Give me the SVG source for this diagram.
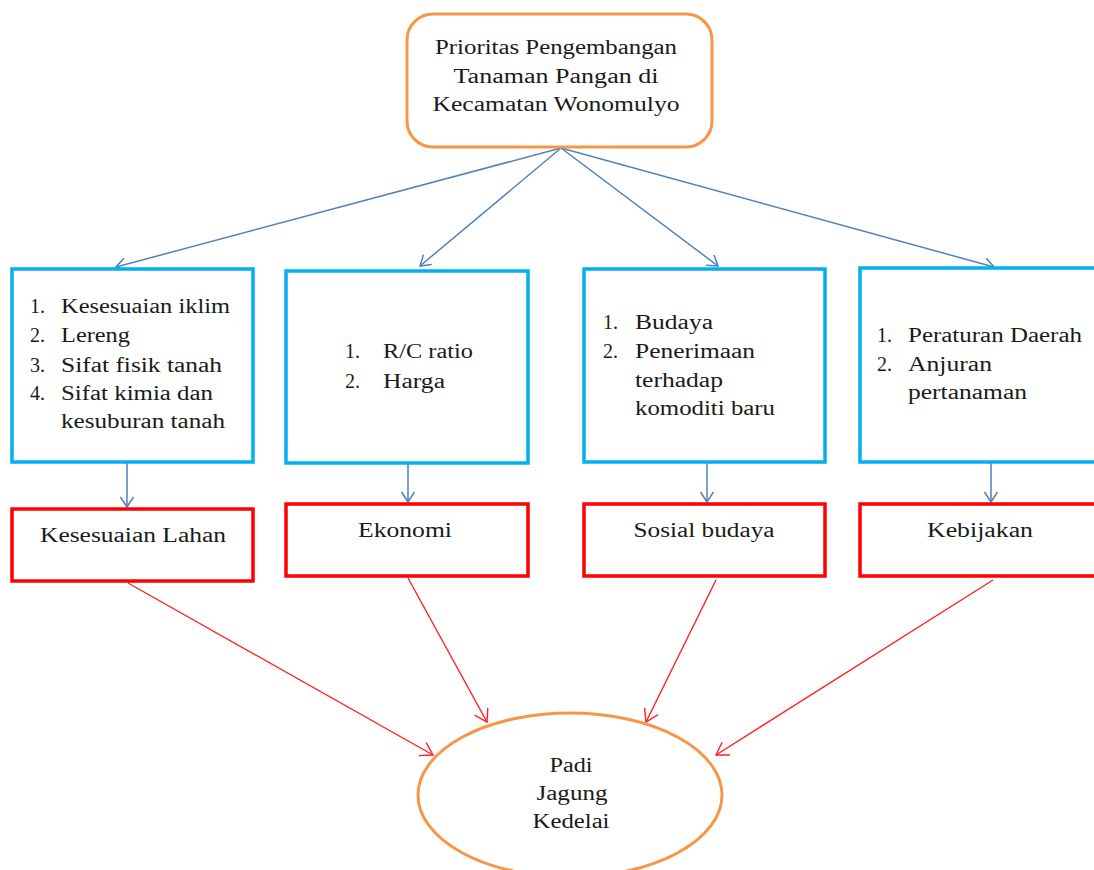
<svg xmlns="http://www.w3.org/2000/svg" width="1094" height="870" viewBox="0 0 1094 870">
<style>
text{font-family:"Liberation Serif","Times New Roman",serif;fill:#1a1a1a;font-size:20px}
.c{text-anchor:middle}
.top{fill:#fff;stroke:#F79646;stroke-width:3}
.crit{fill:#fff;stroke:#00B0F0;stroke-width:3.5}
.cat{fill:#fff;stroke:#FF0000;stroke-width:3.5}
.bl{stroke:#4F81BD;stroke-width:1.5;fill:none;marker-end:url(#ab)}
.rl{stroke:#FF2020;stroke-width:1.4;fill:none;marker-end:url(#ar)}
</style>
<defs>
<marker id="ab" markerUnits="userSpaceOnUse" markerWidth="16" markerHeight="16" refX="11" refY="7" orient="auto" viewBox="0 0 16 16"><path d="M1,0.5 L11,7 L1,13.5" fill="none" stroke="#4F81BD" stroke-width="1.5"/></marker>
<marker id="ar" markerUnits="userSpaceOnUse" markerWidth="18" markerHeight="18" refX="13" refY="8" orient="auto" viewBox="0 0 18 18"><path d="M1,0.5 L13,8 L1,15.5" fill="none" stroke="#FF2020" stroke-width="1.4"/></marker>
</defs>
<rect width="1094" height="870" fill="#fff"/>

<g id="connectors">
<line class="bl" x1="561" y1="148" x2="116" y2="267"/>
<line class="bl" x1="561" y1="148" x2="420" y2="266"/>
<line class="bl" x1="561" y1="148" x2="718" y2="266"/>
<line class="bl" x1="561" y1="148" x2="994" y2="267"/>
<line class="bl" x1="127" y1="463" x2="127" y2="507"/>
<line class="bl" x1="408" y1="464" x2="408" y2="502"/>
<line class="bl" x1="707" y1="463" x2="707" y2="502"/>
<line class="bl" x1="991" y1="463" x2="991" y2="502"/>
<line class="rl" x1="128" y1="583" x2="433" y2="755"/>
<line class="rl" x1="408" y1="578" x2="487" y2="722"/>
<line class="rl" x1="716" y1="580" x2="646" y2="722"/>
<line class="rl" x1="993" y1="580" x2="716" y2="755"/>
</g>

<g id="top">
<rect class="top" x="407" y="14" width="305" height="133" rx="26"/>
<text class="c" x="556" y="54" font-size="21" textLength="242" lengthAdjust="spacingAndGlyphs">Prioritas Pengembangan</text>
<text class="c" x="556" y="83" font-size="21" textLength="205" lengthAdjust="spacingAndGlyphs">Tanaman Pangan di</text>
<text class="c" x="556" y="111" font-size="21" textLength="247" lengthAdjust="spacingAndGlyphs">Kecamatan Wonomulyo</text>
</g>

<g id="kriteria-lahan">
<rect class="crit" x="12" y="269" width="241" height="193"/>
<text x="30" y="313">1.</text><text x="61" y="313" textLength="169" lengthAdjust="spacingAndGlyphs">Kesesuaian iklim</text>
<text x="30" y="342">2.</text><text x="61" y="342" textLength="69" lengthAdjust="spacingAndGlyphs">Lereng</text>
<text x="30" y="372">3.</text><text x="61" y="372" textLength="161" lengthAdjust="spacingAndGlyphs">Sifat fisik tanah</text>
<text x="30" y="400">4.</text><text x="61" y="400" textLength="152" lengthAdjust="spacingAndGlyphs">Sifat kimia dan</text>
<text x="61" y="428" textLength="164" lengthAdjust="spacingAndGlyphs">kesuburan tanah</text>
</g>

<g id="kriteria-ekonomi">
<rect class="crit" x="286" y="271" width="242" height="192"/>
<text x="345" y="358">1.</text><text x="383" y="358" textLength="90" lengthAdjust="spacingAndGlyphs">R/C ratio</text>
<text x="345" y="388">2.</text><text x="383" y="388" textLength="62" lengthAdjust="spacingAndGlyphs">Harga</text>
</g>

<g id="kriteria-sosial">
<rect class="crit" x="584" y="269" width="241" height="193"/>
<text x="603" y="329">1.</text><text x="635" y="329" textLength="78" lengthAdjust="spacingAndGlyphs">Budaya</text>
<text x="603" y="358">2.</text><text x="635" y="358" textLength="120" lengthAdjust="spacingAndGlyphs">Penerimaan</text>
<text x="635" y="387" textLength="88" lengthAdjust="spacingAndGlyphs">terhadap</text>
<text x="635" y="415" textLength="140" lengthAdjust="spacingAndGlyphs">komoditi baru</text>
</g>

<g id="kriteria-kebijakan">
<rect class="crit" x="860" y="268" width="250" height="194"/>
<text x="877" y="342">1.</text><text x="908" y="342" textLength="174" lengthAdjust="spacingAndGlyphs">Peraturan Daerah</text>
<text x="877" y="371">2.</text><text x="908" y="371" textLength="84" lengthAdjust="spacingAndGlyphs">Anjuran</text>
<text x="908" y="399" textLength="119" lengthAdjust="spacingAndGlyphs">pertanaman</text>
</g>

<g id="kesesuaian-lahan">
<rect class="cat" x="12" y="509" width="241" height="72"/>
<text class="c" x="133" y="542" textLength="186" lengthAdjust="spacingAndGlyphs">Kesesuaian Lahan</text>
</g>
<g id="ekonomi">
<rect class="cat" x="286" y="504" width="242" height="72"/>
<text class="c" x="405" y="537" textLength="94" lengthAdjust="spacingAndGlyphs">Ekonomi</text>
</g>
<g id="sosial-budaya">
<rect class="cat" x="584" y="504" width="241" height="72"/>
<text class="c" x="704" y="537" textLength="141" lengthAdjust="spacingAndGlyphs">Sosial budaya</text>
</g>
<g id="kebijakan">
<rect class="cat" x="860" y="504" width="250" height="72"/>
<text class="c" x="980" y="537" textLength="106" lengthAdjust="spacingAndGlyphs">Kebijakan</text>
</g>

<g id="komoditas">
<ellipse class="top" cx="570" cy="795" rx="152" ry="82"/>
<text class="c" x="571" y="772" textLength="43" lengthAdjust="spacingAndGlyphs">Padi</text>
<text class="c" x="572" y="800" textLength="71" lengthAdjust="spacingAndGlyphs">Jagung</text>
<text class="c" x="571" y="828" textLength="77" lengthAdjust="spacingAndGlyphs">Kedelai</text>
</g>
</svg>
